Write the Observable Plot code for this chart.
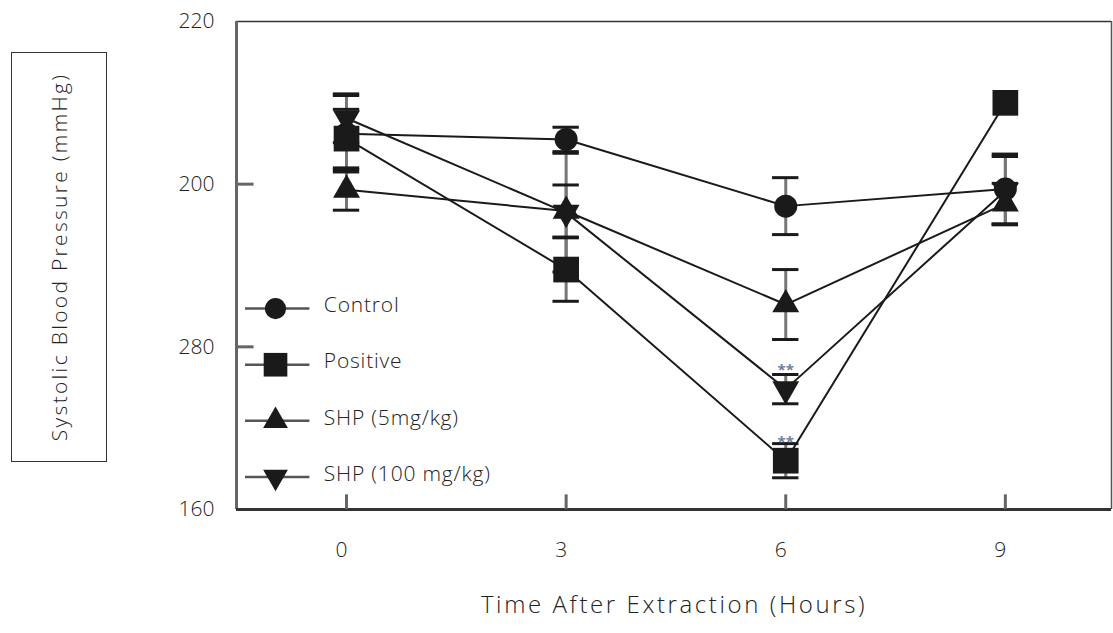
<!DOCTYPE html>
<html><head><meta charset="utf-8">
<script src="https://cdn.jsdelivr.net/npm/d3@7"></script>
<script src="https://cdn.jsdelivr.net/npm/@observablehq/plot@0.6"></script>
<style>
body{margin:0;background:#fff;font-family:"Open Sans",sans-serif}
#wrap{position:relative;width:1113px;height:633px}
#ytitle{position:absolute;left:11px;top:52px;width:96px;height:410px;border:1.5px solid #333;box-sizing:border-box;display:flex;align-items:center;justify-content:center;z-index:2}
#ytitle span{transform:rotate(-90deg);white-space:nowrap;font-size:21px;letter-spacing:2.3px;color:#222;font-family:"Open Sans",sans-serif;font-weight:300}
</style></head>
<body><div id="wrap"><div id="ytitle"><span>Systolic Blood Pressure (mmHg)</span></div></div>
<script>
// ---- data ----
const hours = [0, 3, 6, 9];
const seriesNames = ["Control", "Positive", "SHP (5mg/kg)", "SHP (100 mg/kg)"];
const control    = [206.2, 205.5, 197.3, 199.4];
const controlErr = [4.7, 1.5, 3.5, 4.3];
const positive    = [205.6, 189.5, 166.0, 210.0];
const positiveErr = [3.6, 3.9, 2.1, 0];
const shp5    = [199.3, 196.7, 185.2, 197.6];
const shp5Err = [2.5, 3.2, 4.3, 2.5];
const shp100    = [208.1, 196.5, 174.8, 199.2];
const shp100Err = [3.0, 7.3, 1.8, 4.2];
const sigSeries = ["Positive", "SHP (100 mg/kg)"];
const sigHour = [6, 6];
const sigLabel = ["**", "**"];
const yTicks = [160, 180, 200, 220];
const yTickLabels = ["160", "280", "200", "220"];
const xTitle = "Time After Extraction (Hours)";

// ---- build ----
const values = [control, positive, shp5, shp100];
const errs = [controlErr, positiveErr, shp5Err, shp100Err];
const symbols = ["circle", "square", "triangle", "triangle"];
const rotations = [0, 0, 0, 180];
const radii = [11.5, 14.5, 10, 10];

const rows = [];
seriesNames.forEach((s, k) => hours.forEach((h, i) => rows.push({series: s, k, hour: h, value: values[k][i], err: errs[k][i]})));
const sigRows = sigSeries.map((s, i) => {
  const k = seriesNames.indexOf(s);
  return {hour: sigHour[i], value: values[k][hours.indexOf(sigHour[i])], label: sigLabel[i]};
});

const xMin = -1.503, xMax = 10.45, yMin = 160, yMax = 220;
const capHalf = 0.18;
const legendX = -0.97, legendL1 = -1.38, legendL2 = -0.5, legendText = -0.31;
const legendY0 = 184.7, legendStep = 6.9;
const legendRows = seriesNames.map((s, k) => ({series: s, k, y: legendY0 - k * legendStep}));

const marks = [];
// frame
marks.push(Plot.ruleY([yMax], {stroke: "#333", strokeWidth: 1.5}));
marks.push(Plot.ruleX([xMax], {stroke: "#555", strokeWidth: 1.5}));
marks.push(Plot.ruleX([xMin], {stroke: "#666", strokeWidth: 3}));
marks.push(Plot.ruleY([yMin], {stroke: "#333", strokeWidth: 3}));
// inner ticks
marks.push(Plot.ruleY(yTicks.filter(t => t > yMin && t < yMax), {x1: xMin, x2: xMin + 0.24, stroke: "#666", strokeWidth: 3}));
marks.push(Plot.ruleX(hours, {y1: yMin, y2: yMin + 1.8, stroke: "#666", strokeWidth: 3}));
// axes
marks.push(Plot.axisY(yTicks, {tickSize: 0, tickPadding: 22, tickFormat: d => yTickLabels[yTicks.indexOf(d)], fontSize: 21, label: null, fill: "#222"}));
marks.push(Plot.axisX(hours, {tickSize: 0, tickPadding: 33, dx: -5, fontSize: 21, label: null, fill: "#222"}));
marks.push(Plot.text([xTitle], {frameAnchor: "bottom", dy: 103, fontSize: 24, fill: "#222"}));
// lines
seriesNames.forEach((s, k) => {
  marks.push(Plot.line(rows.filter(r => r.k === k), {x: "hour", y: "value", stroke: "#1a1a1a", strokeWidth: 2}));
});
// error bars
const eb = rows.filter(r => r.err > 0);
marks.push(Plot.ruleX(eb, {x: "hour", y1: r => r.value - r.err, y2: r => r.value + r.err, stroke: "#777", strokeWidth: 3}));
marks.push(Plot.ruleY(eb, {y: r => r.value + r.err, x1: r => r.hour - capHalf, x2: r => r.hour + capHalf, stroke: "#1a1a1a", strokeWidth: 3}));
marks.push(Plot.ruleY(eb, {y: r => r.value - r.err, x1: r => r.hour - capHalf, x2: r => r.hour + capHalf, stroke: "#1a1a1a", strokeWidth: 3}));
// markers
seriesNames.forEach((s, k) => {
  marks.push(Plot.dot(rows.filter(r => r.k === k), {x: "hour", y: "value", symbol: symbols[k], r: radii[k], rotate: rotations[k], fill: "#1a1a1a", stroke: "none"}));
});
// significance
marks.push(Plot.text(sigRows, {x: "hour", y: "value", text: "label", dy: -19, fontSize: 15, fontWeight: "bold", fill: "#6b7fa3"}));
// legend
marks.push(Plot.ruleY(legendRows, {y: "y", x1: legendL1, x2: legendL2, stroke: "#555", strokeWidth: 2.5}));
legendRows.forEach(lr => {
  marks.push(Plot.dot([lr], {x: legendX, y: "y", symbol: symbols[lr.k], r: radii[lr.k] * 0.92, rotate: rotations[lr.k], fill: "#1a1a1a", stroke: "none"}));
});
marks.push(Plot.text(legendRows, {x: legendText, y: "y", text: "series", dy: -3, textAnchor: "start", fontSize: 21, fill: "#222"}));

const chart = Plot.plot({
  width: 1113, height: 633,
  marginLeft: 236, marginRight: 2, marginTop: 21, marginBottom: 124,
  x: {domain: [xMin, xMax]},
  y: {domain: [yMin, yMax]},
  style: {fontFamily: "'Open Sans', sans-serif", fontSize: "21px", color: "#222", background: "white", fontWeight: 300},
  marks
});
// letter spacing for the wide original type
d3.select(chart).selectAll("text").each(function() {
  const t = this.textContent;
  if (t === xTitle) this.setAttribute("letter-spacing", "2.6px");
  else if (seriesNames.includes(t)) this.setAttribute("letter-spacing", "0.8px");
});
document.getElementById("wrap").appendChild(chart);
</script>
</body></html>
